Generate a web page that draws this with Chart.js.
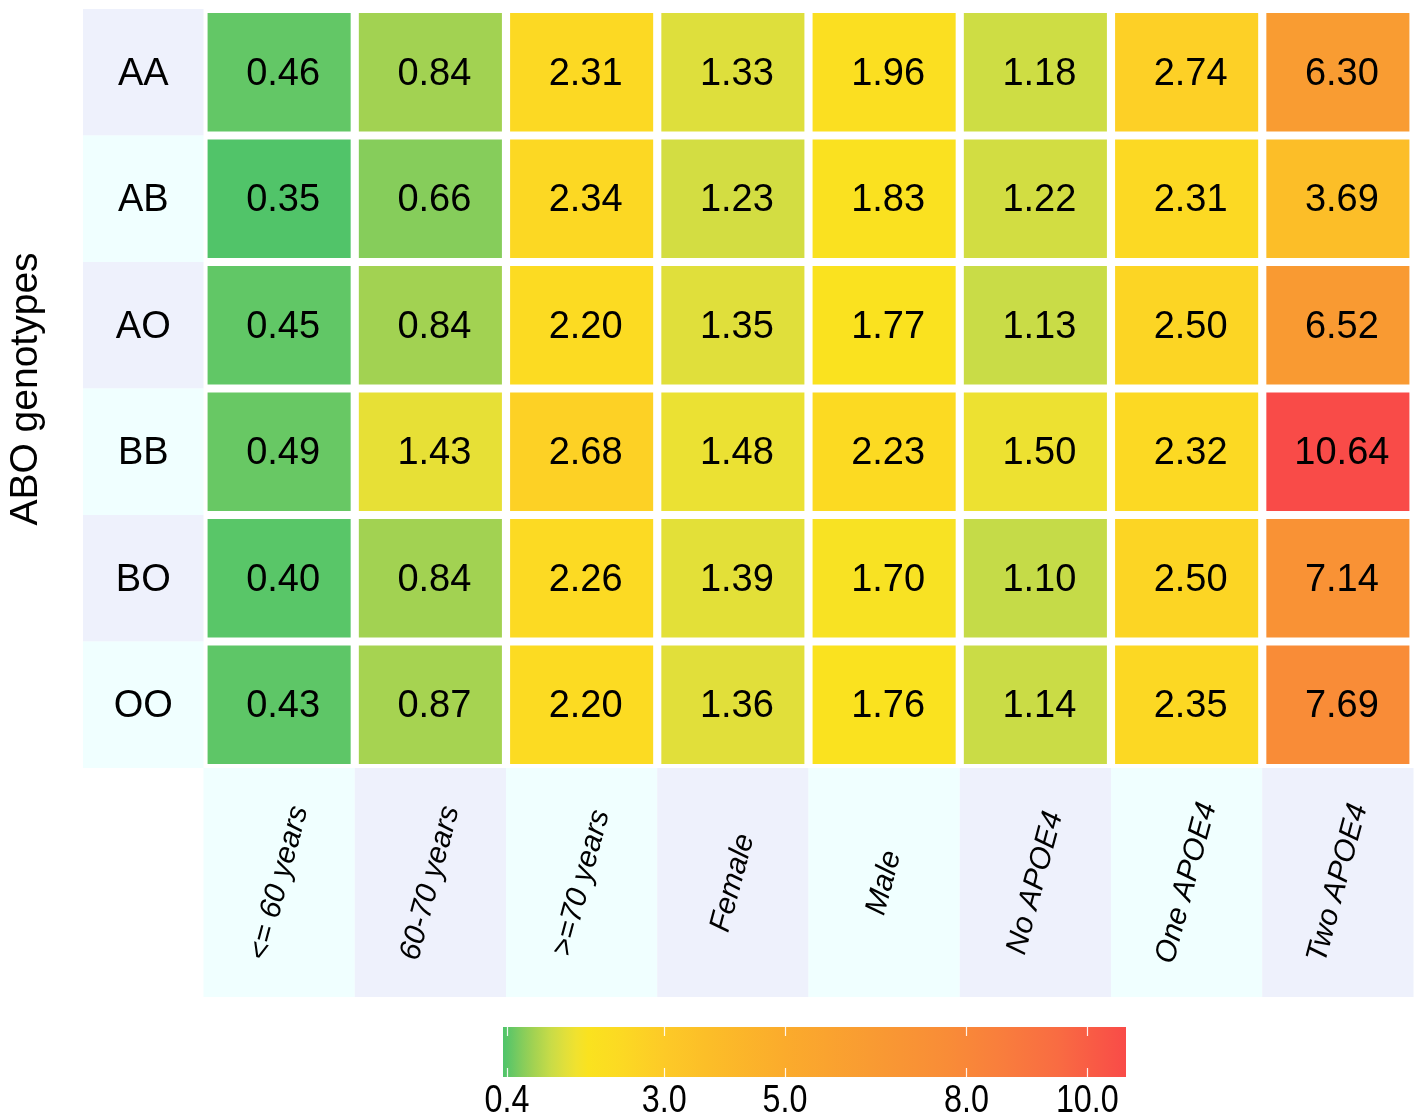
<!DOCTYPE html>
<html>
<head>
<meta charset="utf-8">
<script src="https://cdn.jsdelivr.net/npm/chart.js@4.4.1/dist/chart.umd.min.js"></script>
<style>
  html, body { margin: 0; padding: 0; background: #fff; }
  #wrap { width: 1418px; height: 1118px; }
  canvas { display: block; }
</style>
</head>
<body>
<div id="wrap">
  <canvas id="heat" width="1418" height="1000"></canvas>
  <canvas id="bar" width="1418" height="118"></canvas>
</div>
<script>
// rows and columns
const genotypes = ['AA', 'AB', 'AO', 'BB', 'BO', 'OO'];
const groups = ['<= 60 years', '60-70 years', '>=70 years', 'Female', 'Male', 'No APOE4', 'One APOE4', 'Two APOE4'];

// values per genotype, same order as groups
const valAA = [0.46, 0.84, 2.31, 1.33, 1.96, 1.18, 2.74, 6.30];
const valAB = [0.35, 0.66, 2.34, 1.23, 1.83, 1.22, 2.31, 3.69];
const valAO = [0.45, 0.84, 2.20, 1.35, 1.77, 1.13, 2.50, 6.52];
const valBB = [0.49, 1.43, 2.68, 1.48, 2.23, 1.50, 2.32, 10.64];
const valBO = [0.40, 0.84, 2.26, 1.39, 1.70, 1.10, 2.50, 7.14];
const valOO = [0.43, 0.87, 2.20, 1.36, 1.76, 1.14, 2.35, 7.69];
const values = [valAA, valAB, valAO, valBB, valBO, valOO];

// colour scale
const scaleTicks = [0.4, 3.0, 5.0, 8.0, 10.0];
const scaleMin = 0.334;
const scaleMax = 10.64;
const stopValues = [0.334, 0.46, 0.66, 0.84, 1.13, 1.35, 1.55, 1.75, 2.3, 3.0, 3.7, 5.0, 6.4, 7.7, 8.5, 9.5, 10.64];
const stopColors = ['#4ec46a', '#63c766', '#86cd5b', '#a2d252', '#c9dc47', '#e0df3b', '#f1e22e', '#fae21f',
  '#fcd923', '#fdca27', '#fcbe28', '#fbab2c', '#f99b32', '#f98c37', '#f97f3c', '#f96c42', '#f94b48'];

const FONT = "'Liberation Sans', Arial, sans-serif";
const LAVENDER = '#eef1fc';
const AZURE = '#f0ffff';

function hexRgb(h) {
  return [parseInt(h.slice(1, 3), 16), parseInt(h.slice(3, 5), 16), parseInt(h.slice(5, 7), 16)];
}

function colorFor(v) {
  if (v <= stopValues[0]) return stopColors[0];
  for (let i = 1; i < stopValues.length; i++) {
    if (v <= stopValues[i]) {
      const t = (v - stopValues[i - 1]) / (stopValues[i] - stopValues[i - 1]);
      const a = hexRgb(stopColors[i - 1]), b = hexRgb(stopColors[i]);
      const c = a.map((x, k) => Math.round(x + (b[k] - x) * t));
      return `rgb(${c[0]},${c[1]},${c[2]})`;
    }
  }
  return stopColors[stopColors.length - 1];
}

// backgrounds, labels and numbers around the cells
const heatDecor = {
  id: 'heatDecor',
  beforeDatasetsDraw(chart) {
    const { ctx, chartArea, scales: { x, y } } = chart;
    const colW = x.getPixelForValue(1) - x.getPixelForValue(0);
    ctx.save();
    genotypes.forEach((g, r) => {
      const top = y.getPixelForValue(r), bot = y.getPixelForValue(r + 1);
      ctx.fillStyle = r % 2 ? AZURE : LAVENDER;
      ctx.fillRect(83, top, chartArea.left - 83, bot - top);
      ctx.fillStyle = '#000';
      ctx.font = `38px ${FONT}`;
      ctx.textAlign = 'center';
      ctx.textBaseline = 'middle';
      ctx.fillText(g, (83 + chartArea.left) / 2, (top + bot) / 2 + 2);
    });
    groups.forEach((g, c) => {
      const cx = x.getPixelForValue(c);
      ctx.fillStyle = c % 2 ? LAVENDER : AZURE;
      ctx.fillRect(cx - colW / 2, chartArea.bottom, colW, 229);
      ctx.save();
      ctx.translate(cx, chartArea.bottom + 115);
      ctx.rotate(-75 * Math.PI / 180);
      ctx.fillStyle = '#000';
      ctx.font = `italic 30px ${FONT}`;
      ctx.textAlign = 'center';
      ctx.textBaseline = 'middle';
      ctx.fillText(g, 0, 0);
      ctx.restore();
    });
    // axis title
    ctx.save();
    ctx.translate(26, 389);
    ctx.rotate(-Math.PI / 2);
    ctx.fillStyle = '#000';
    ctx.font = `39px ${FONT}`;
    ctx.textAlign = 'center';
    ctx.textBaseline = 'middle';
    ctx.fillText('ABO genotypes', 0, 0);
    ctx.restore();
    ctx.restore();
  },
  afterDatasetsDraw(chart) {
    const { ctx } = chart;
    ctx.save();
    ctx.fillStyle = '#000';
    ctx.font = `38px ${FONT}`;
    ctx.textAlign = 'center';
    ctx.textBaseline = 'middle';
    chart.data.datasets.forEach((ds, r) => {
      chart.getDatasetMeta(r).data.forEach((bar, c) => {
        ctx.fillText(values[r][c].toFixed(2), bar.x + 4, (bar.y + bar.base) / 2 + 2);
      });
    });
    ctx.restore();
  }
};

new Chart(document.getElementById('heat'), {
  type: 'bar',
  data: {
    labels: groups,
    datasets: genotypes.map((g, r) => ({
      label: g,
      data: values[r].map(() => [r + 0.031, r + 0.969]),
      backgroundColor: values[r].map(colorFor),
      borderWidth: 0,
      barPercentage: 0.946,
      categoryPercentage: 1,
      grouped: false
    }))
  },
  options: {
    responsive: false,
    animation: false,
    layout: { padding: { left: 203.5, right: 4.5, top: 9, bottom: 232 } },
    plugins: { legend: { display: false }, tooltip: { enabled: false } },
    scales: {
      x: { display: false },
      y: { type: 'linear', min: 0, max: 6, reverse: true, display: false }
    }
  },
  plugins: [heatDecor]
});

// colour bar
function barGradient(chart) {
  const x = chart.scales.x;
  if (!x || !chart.chartArea) return stopColors[0];
  const x0 = x.getPixelForValue(scaleMin), x1 = x.getPixelForValue(scaleMax);
  const g = chart.ctx.createLinearGradient(x0, 0, x1, 0);
  stopValues.forEach((v, i) => g.addColorStop((v - scaleMin) / (scaleMax - scaleMin), stopColors[i]));
  return g;
}

// white tick marks inside the bar and narrow tick labels under it
const tickMarks = {
  id: 'tickMarks',
  afterDatasetsDraw(chart) {
    const { ctx, chartArea, scales: { x } } = chart;
    ctx.save();
    ctx.strokeStyle = 'rgba(255,255,255,0.9)';
    ctx.lineWidth = 1.2;
    scaleTicks.forEach(v => {
      const px = Math.round(x.getPixelForValue(v)) + 0.5;
      ctx.beginPath();
      ctx.moveTo(px, chartArea.top);
      ctx.lineTo(px, chartArea.top + 9);
      ctx.moveTo(px, chartArea.bottom - 9);
      ctx.lineTo(px, chartArea.bottom);
      ctx.stroke();
    });
    ctx.fillStyle = '#000';
    ctx.font = `38px ${FONT}`;
    ctx.textAlign = 'center';
    ctx.textBaseline = 'alphabetic';
    scaleTicks.forEach(v => {
      ctx.save();
      ctx.translate(x.getPixelForValue(v), chartArea.bottom + 35);
      ctx.scale(0.85, 1);
      ctx.fillText(v.toFixed(1), 0, 0);
      ctx.restore();
    });
    ctx.restore();
  }
};

new Chart(document.getElementById('bar'), {
  type: 'bar',
  data: {
    labels: ['scale'],
    datasets: [{
      data: [[scaleMin, scaleMax]],
      backgroundColor: ctx => barGradient(ctx.chart),
      borderWidth: 0,
      barPercentage: 1,
      categoryPercentage: 1
    }]
  },
  options: {
    indexAxis: 'y',
    responsive: false,
    animation: false,
    layout: { padding: { left: 503, right: 292, top: 27, bottom: 41 } },
    plugins: { legend: { display: false }, tooltip: { enabled: false } },
    scales: {
      x: { type: 'linear', min: scaleMin, max: scaleMax, display: false },
      y: { display: false }
    }
  },
  plugins: [tickMarks]
});
</script>
</body>
</html>
